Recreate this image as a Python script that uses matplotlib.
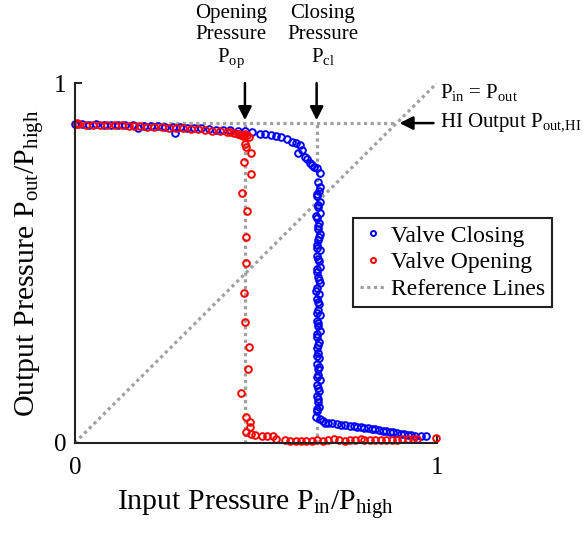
import matplotlib
matplotlib.use('Agg')
import matplotlib.pyplot as plt

plt.rcParams['font.family'] = ['Liberation Serif', 'DejaVu Serif']
plt.rcParams['mathtext.fontset'] = 'custom'
plt.rcParams['mathtext.rm'] = 'Liberation Serif'
plt.rcParams['mathtext.default'] = 'regular'

# valve closing sweep (blue): flat top, vertical drop, low tail
closing_top_x = [0.0, 0.02, 0.04, 0.06, 0.08, 0.10, 0.12, 0.14, 0.16, 0.174,
                 0.19, 0.21, 0.23, 0.25, 0.276, 0.27, 0.29, 0.31, 0.33, 0.35,
                 0.37, 0.39, 0.41, 0.43, 0.45, 0.47, 0.49, 0.511, 0.525, 0.543,
                 0.557, 0.571, 0.585, 0.599, 0.61, 0.622, 0.617, 0.628, 0.635, 0.642,
                 0.649, 0.655, 0.662, 0.668, 0.677, 0.672, 0.677]
closing_top_y = [0.886, 0.887, 0.885, 0.886, 0.884, 0.885, 0.884, 0.883, 0.884, 0.875,
                 0.882, 0.881, 0.880, 0.879, 0.862, 0.878, 0.877, 0.876, 0.875, 0.874,
                 0.873, 0.871, 0.870, 0.869, 0.868, 0.867, 0.865, 0.860, 0.858, 0.856,
                 0.853, 0.851, 0.846, 0.837, 0.833, 0.828, 0.805, 0.815, 0.795, 0.790,
                 0.777, 0.772, 0.768, 0.763, 0.749, 0.726, 0.712]
closing_drop_x = [0.674, 0.670, 0.676, 0.672, 0.678, 0.669, 0.675, 0.671, 0.677, 0.673,
                  0.668, 0.676, 0.670, 0.674, 0.678, 0.669, 0.673, 0.676, 0.670, 0.675,
                  0.668, 0.674, 0.671, 0.677, 0.669, 0.673, 0.676, 0.670, 0.674, 0.668,
                  0.672, 0.675, 0.669, 0.673, 0.671, 0.676, 0.670, 0.674, 0.668, 0.672,
                  0.675, 0.670, 0.666]
closing_drop_y = [0.700, 0.685, 0.670, 0.655, 0.640, 0.625, 0.610, 0.595, 0.580, 0.565,
                  0.550, 0.535, 0.520, 0.505, 0.490, 0.475, 0.460, 0.445, 0.430, 0.415,
                  0.400, 0.385, 0.370, 0.355, 0.340, 0.325, 0.310, 0.295, 0.280, 0.265,
                  0.250, 0.235, 0.220, 0.205, 0.190, 0.175, 0.160, 0.145, 0.130, 0.115,
                  0.100, 0.088, 0.073]
closing_drop2_x = [0.669, 0.673, 0.667, 0.671, 0.675, 0.668, 0.672, 0.670, 0.674, 0.667,
                   0.671, 0.669, 0.673, 0.668, 0.672, 0.670, 0.674, 0.669, 0.671, 0.673,
                   0.670, 0.676]
closing_drop2_y = [0.693, 0.662, 0.632, 0.602, 0.572, 0.543, 0.512, 0.483, 0.452, 0.422,
                   0.392, 0.362, 0.333, 0.302, 0.272, 0.242, 0.212, 0.183, 0.152, 0.122,
                   0.094, 0.066]
closing_tail_x = [0.685, 0.69, 0.70, 0.71, 0.723, 0.735, 0.745, 0.76, 0.77, 0.78,
                  0.79, 0.80, 0.81, 0.82, 0.83, 0.84, 0.852, 0.86, 0.87, 0.88,
                  0.89, 0.90, 0.91, 0.92, 0.93, 0.94, 0.955, 0.971]
closing_tail_y = [0.060, 0.056, 0.055, 0.054, 0.053, 0.051, 0.050, 0.047, 0.046, 0.045,
                  0.044, 0.042, 0.041, 0.040, 0.038, 0.036, 0.033, 0.032, 0.030, 0.031,
                  0.027, 0.025, 0.024, 0.022, 0.023, 0.020, 0.020, 0.018]

# valve opening sweep (red)
opening_top_x = [0.005, 0.005, 0.01, 0.03, 0.05, 0.07, 0.09, 0.11, 0.13, 0.15,
                 0.165, 0.18, 0.20, 0.22, 0.24, 0.26, 0.28, 0.30, 0.32, 0.34,
                 0.36, 0.38, 0.40, 0.42, 0.43, 0.44, 0.45, 0.455, 0.46, 0.465,
                 0.47, 0.475, 0.48]
opening_top_y = [0.886, 0.888, 0.886, 0.885, 0.885, 0.884, 0.884, 0.883, 0.883, 0.882,
                 0.880, 0.880, 0.879, 0.878, 0.877, 0.876, 0.875, 0.874, 0.873, 0.872,
                 0.870, 0.868, 0.866, 0.865, 0.864, 0.862, 0.860, 0.858, 0.855, 0.852,
                 0.858, 0.855, 0.850]
opening_drop_x = [0.47, 0.474, 0.488, 0.467, 0.486, 0.463, 0.476, 0.472, 0.474, 0.467,
                  0.47, 0.481, 0.479, 0.46, 0.474, 0.483, 0.483, 0.472, 0.488, 0.497]
opening_drop_y = [0.832, 0.823, 0.806, 0.781, 0.747, 0.694, 0.645, 0.573, 0.499, 0.418,
                  0.335, 0.266, 0.205, 0.140, 0.073, 0.059, 0.045, 0.029, 0.025, 0.022]
opening_tail_x = [0.516, 0.53, 0.548, 0.557, 0.58, 0.594, 0.61, 0.625, 0.64, 0.655,
                  0.67, 0.685, 0.70, 0.715, 0.73, 0.745, 0.76, 0.775, 0.79, 0.80,
                  0.815, 0.83, 0.845, 0.86, 0.875, 0.89, 0.905, 0.92, 0.935, 0.945,
                  0.999]
opening_tail_y = [0.019, 0.020, 0.018, 0.010, 0.008, 0.004, 0.006, 0.005, 0.006, 0.005,
                  0.007, 0.006, 0.008, 0.010, 0.007, 0.006, 0.008, 0.007, 0.011, 0.009,
                  0.008, 0.007, 0.008, 0.007, 0.009, 0.008, 0.010, 0.012, 0.011, 0.010,
                  0.013]

p_hi = 0.889   # HI output level
p_op = 0.47    # opening pressure
p_cl = 0.668   # closing pressure

closing_x = closing_top_x + closing_drop_x + closing_drop2_x + closing_tail_x
closing_y = closing_top_y + closing_drop_y + closing_drop2_y + closing_tail_y
opening_x = opening_top_x + opening_drop_x + opening_tail_x
opening_y = opening_top_y + opening_drop_y + opening_tail_y

fig = plt.figure(figsize=(5.84, 5.33), dpi=100)
ax = fig.add_axes([0.128, 0.169, 0.620, 0.675])

ref = dict(color='#a0a0a0', lw=2.3, linestyle=(0, (1, 1.1)))
ref_line, = ax.plot([0, 1], [0, 1], **ref)
ax.plot([0, p_hi], [p_hi, p_hi], **ref)
ax.plot([p_op, p_op], [0, p_hi], **ref)
ax.plot([p_cl, p_cl], [0, p_hi], **ref)

mk = dict(linestyle='none', marker='o', mfc='none', ms=4.8, mew=1.4, clip_on=False)
cl_line, = ax.plot(closing_x, closing_y, mec='blue', **mk)
op_line, = ax.plot(opening_x, opening_y, mec='red', **mk)

ax.set_xlim(0, 1)
ax.set_ylim(0, 1)
ax.set_xticks([0, 1])
ax.set_yticks([0, 1])
ax.tick_params(direction='in', length=5, width=1.2, labelsize=18, pad=6)
ax.tick_params(axis='x', pad=10)
for s in ['top', 'right']:
    ax.spines[s].set_visible(False)
for s in ['left', 'bottom']:
    ax.spines[s].set_linewidth(1.5)
    ax.spines[s].set_color('#222222')

ax.set_xlabel('Input Pressure $P_{in}$/$P_{high}$', fontsize=21.5)
ax.xaxis.set_label_coords(0.5, -0.125)
ax.set_ylabel('Output Pressure $P_{out}$/$P_{high}$', fontsize=21.5)
ax.yaxis.set_label_coords(-0.08, 0.5)

arrow = dict(arrowstyle='-|>,head_length=0.4,head_width=0.2', color='black', lw=1.8,
             mutation_scale=20, shrinkA=0, shrinkB=0)
ax.annotate('', xy=(p_op, p_hi + 0.008), xytext=(p_op, 1.0), arrowprops=arrow,
            annotation_clip=False)
ax.annotate('', xy=(p_cl, p_hi + 0.008), xytext=(p_cl, 1.0), arrowprops=arrow,
            annotation_clip=False)
ax.text(0.431, 1.22, 'Opening\nPressure\n$P_{op}$', ha='center', va='top', fontsize=15,
        linespacing=1.15, clip_on=False)
ax.text(0.685, 1.22, 'Closing\nPressure\n$P_{cl}$', ha='center', va='top', fontsize=15,
        linespacing=1.15, clip_on=False)
ax.annotate('HI Output $P_{out{,}HI}$', xy=(p_hi + 0.008, p_hi), xytext=(1.01, p_hi),
            va='center', fontsize=15, arrowprops=dict(arrow, shrinkA=3),
            annotation_clip=False)
ax.text(1.01, 0.975, '$P_{in}$ = $P_{out}$', va='center', fontsize=15, clip_on=False)

leg = ax.legend([cl_line, op_line, ref_line],
                ['Valve Closing', 'Valve Opening', 'Reference Lines'],
                loc='upper left', bbox_to_anchor=(0.768, 0.625), fontsize=17,
                fancybox=False, framealpha=1, edgecolor='#222222', handlelength=1.1,
                handletextpad=0.2, labelspacing=0.22, borderpad=0.3, borderaxespad=0,
                markerscale=0.75)
leg.get_frame().set_linewidth(1.5)

fig.savefig('out.png', dpi=100)
